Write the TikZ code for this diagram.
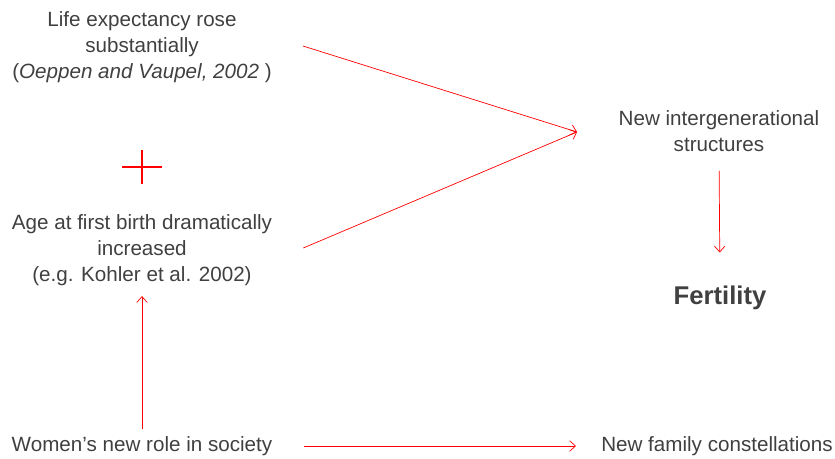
\documentclass[tikz,border=0pt]{standalone}
\usepackage{fontspec}
\setmainfont{Liberation Sans}
\usetikzlibrary{positioning, arrows.meta}

\definecolor{txtgray}{HTML}{404040}
\definecolor{linkred}{HTML}{FF0000}

\tikzset{
	label text/.style={text=txtgray, align=center, inner sep=0pt, font=\fontsize{17.6}{22.4}\selectfont},
	link/.style={draw=linkred, line width=0.6pt, -{Straight Barb[length=5pt, width=9pt]}},
}

\begin{document}
\begin{tikzpicture}[x=0.03cm, y=-0.03cm]
	\useasboundingbox (0, 0) rectangle (835, 459);

	\node[label text] (life) at (142, 47) {Life expectancy rose\\substantially\\(\textit{Oeppen and Vaupel, 2002} )};
	\node[label text] (age) at (142, 250) {Age at first birth dramatically\\increased\\(e.g. Kohler et al. 2002)};
	\node[label text] (women) at (142, 446) {Women’s new role in society};

	\node[label text] (inter) at (719, 131) {New intergenerational\\structures};
	\node[label text, font=\bfseries\fontsize{21.9}{26}\selectfont] (fert) at (720, 298) {Fertility};
	\node[label text] (family) at (717, 446) {New family constellations};

	\coordinate (meet) at (577, 132);
	\draw[link] (life.east) ++(31, -1) -- (meet);
	\draw[link] (age.east) ++(31, -2) -- (meet);

	\draw[link, shorten <=0.2cm, shorten >=0.3cm] (women.north) -- (age.south);
	\draw[link, shorten <=0.93cm, shorten >=0.75cm] (women.east) -- (family.west);
	\draw[link, shorten <=0.57cm, shorten >=1cm] (inter.south) -- (fert.north);

	\draw[linkred, line width=1.6pt] (122, 167) -- (162, 167);
	\draw[linkred, line width=1.6pt] (142, 150) -- (142, 184);

\end{tikzpicture}
\end{document}
